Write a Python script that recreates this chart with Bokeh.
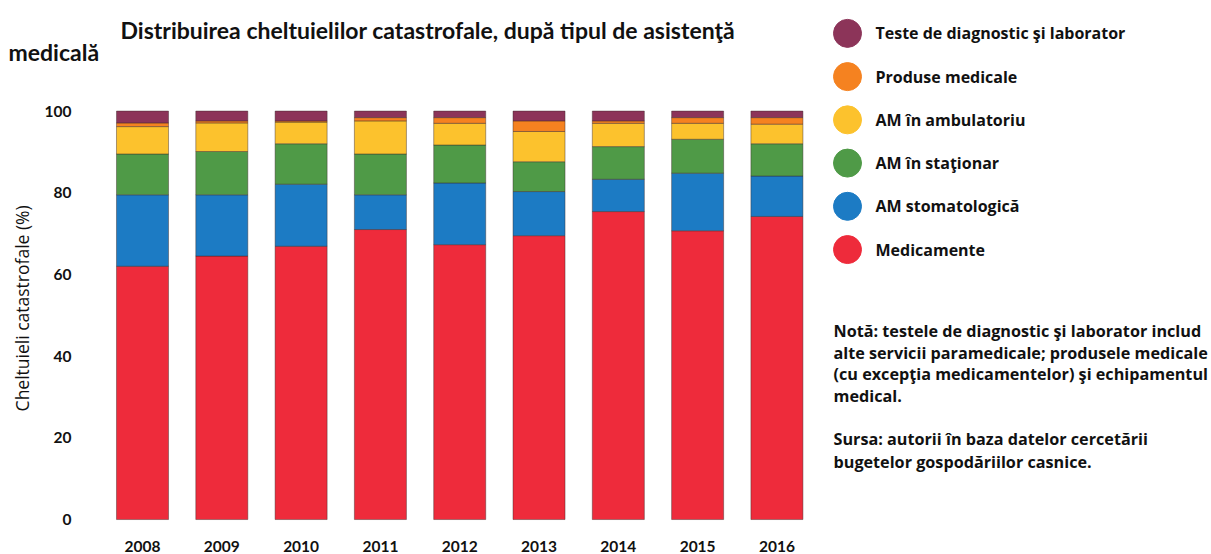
import math
from bokeh.plotting import figure
from bokeh.models import ColumnDataSource, Range1d, FixedTicker
from bokeh.core.properties import value
from bokeh.embed import file_html
from bokeh.resources import INLINE

years = ["2008", "2009", "2010", "2011", "2012", "2013", "2014", "2015", "2016"]
medicamente = [62.0, 64.5, 66.9, 71.0, 67.3, 69.5, 75.4, 70.7, 74.2]
stomatologica = [17.5, 15.0, 15.2, 8.5, 15.1, 10.8, 7.9, 14.1, 9.9]
stationar = [10.0, 10.6, 9.9, 10.0, 9.3, 7.3, 8.0, 8.3, 7.9]
ambulatoriu = [6.7, 7.0, 5.3, 8.1, 5.3, 7.4, 5.7, 3.9, 4.8]
produse = [0.9, 0.5, 0.3, 0.8, 1.4, 2.6, 0.6, 1.4, 1.6]
teste = [2.9, 2.4, 2.4, 1.6, 1.6, 2.4, 2.4, 1.6, 1.6]

series_keys = ["med", "stom", "stat", "amb", "prod", "test"]
series_names = ["Medicamente", "AM stomatologică", "AM în staţionar",
                "AM în ambulatoriu", "Produse medicale", "Teste de diagnostic şi laborator"]
colors = ["#ee2b3b", "#1c7bc4", "#4f9a47", "#fcc22d", "#f58220", "#8c3459"]

y_ticks = [0, 20, 40, 60, 80, 100]
title_line1 = "Distribuirea cheltuielilor catastrofale, după tipul de asistenţă"
title_line2 = "medicală"
y_title = "Cheltuieli catastrofale (%)"
note_lines = ["Notă: testele de diagnostic şi laborator includ",
              "alte servicii paramedicale; produsele medicale",
              "(cu excepţia medicamentelor) şi echipamentul",
              "medical."]
source_lines = ["Sursa: autorii în baza datelor cercetării",
                "bugetelor gospodăriilor casnice."]

FONT = "Lato"
FONT2 = "Open Sans"
INK = "#111111"

x_idx = list(range(len(years)))
src = ColumnDataSource(dict(x=x_idx, med=medicamente, stom=stomatologica,
                            stat=stationar, amb=ambulatoriu, prod=produse, test=teste))

# frame spans page x 0..1211 and y 0..533 ; "px" ranges map page pixels for the annotations
p = figure(x_range=Range1d(-1.7907, 13.48), y_range=Range1d(-2.927, 127.07),
           width=1211, height=554, output_backend="svg", toolbar_location=None,
           min_border_left=0, min_border_right=0, min_border_top=0, min_border_bottom=21)
p.extra_x_ranges["px"] = Range1d(0, 1211)
p.extra_y_ranges["px"] = Range1d(533, 0)

p.vbar_stack(series_keys, x="x", width=0.656, source=src, color=colors,
             line_color="#3a2a2a", line_width=0.8, line_alpha=0.55)

p.outline_line_color = None
p.grid.visible = False
p.xaxis.axis_line_color = None
p.yaxis.axis_line_color = None
p.axis.major_tick_line_color = None
p.axis.minor_tick_line_color = None
p.yaxis.ticker = FixedTicker(ticks=y_ticks)
p.yaxis.fixed_location = -0.4918
p.xaxis.ticker = FixedTicker(ticks=x_idx)
p.xaxis.major_label_overrides = {i: y for i, y in zip(x_idx, years)}
p.axis.major_label_text_font = FONT
p.axis.major_label_text_font_style = "bold"
p.axis.major_label_text_font_size = "15.5px"
p.axis.major_label_text_color = INK
p.yaxis.major_label_standoff = 26
p.xaxis.major_label_standoff = 3

# y-axis title
p.text(x=[21], y=[309], text=[y_title], x_range_name="px", y_range_name="px",
       angle=math.pi / 2, text_align="center", text_baseline="middle",
       text_font=value(FONT2), text_font_size="17.5px", text_color=INK)

# title
p.text(x=[120, 8], y=[30, 52], text=[title_line1, title_line2], x_range_name="px", y_range_name="px",
       text_font=value(FONT), text_font_style="bold", text_font_size="23px",
       text_baseline="middle", text_color=INK)

# legend
leg_names = series_names[::-1]
leg_colors = colors[::-1]
leg_y = [33 + 43.4 * i for i in range(len(leg_names))]
leg_src = ColumnDataSource(dict(x=[847] * len(leg_names), y=leg_y, c=leg_colors,
                                tx=[875] * len(leg_names), t=leg_names))
p.scatter("x", "y", size=28, color="c", source=leg_src, x_range_name="px", y_range_name="px")
p.text("tx", "y", text="t", source=leg_src, x_range_name="px", y_range_name="px",
       text_font=value(FONT2), text_font_style="bold",
       text_font_size="16px", text_baseline="middle", text_color=INK)

# notes
note_y = [332 + 21.7 * i for i in range(len(note_lines))]
note_src = ColumnDataSource(dict(x=[833] * len(note_lines), y=note_y, t=note_lines))
p.text("x", "y", text="t", source=note_src, x_range_name="px", y_range_name="px",
       text_font=value(FONT2), text_font_style="bold",
       text_font_size="16.2px", text_baseline="middle", text_color=INK)
src_y = [440 + 23 * i for i in range(len(source_lines))]
s_src = ColumnDataSource(dict(x=[833] * len(source_lines), y=src_y, t=source_lines))
p.text("x", "y", text="t", source=s_src, x_range_name="px", y_range_name="px",
       text_font=value(FONT2), text_font_style="bold",
       text_font_size="16.2px", text_baseline="middle", text_color=INK)

open("out.html", "w").write(file_html(p, INLINE))
